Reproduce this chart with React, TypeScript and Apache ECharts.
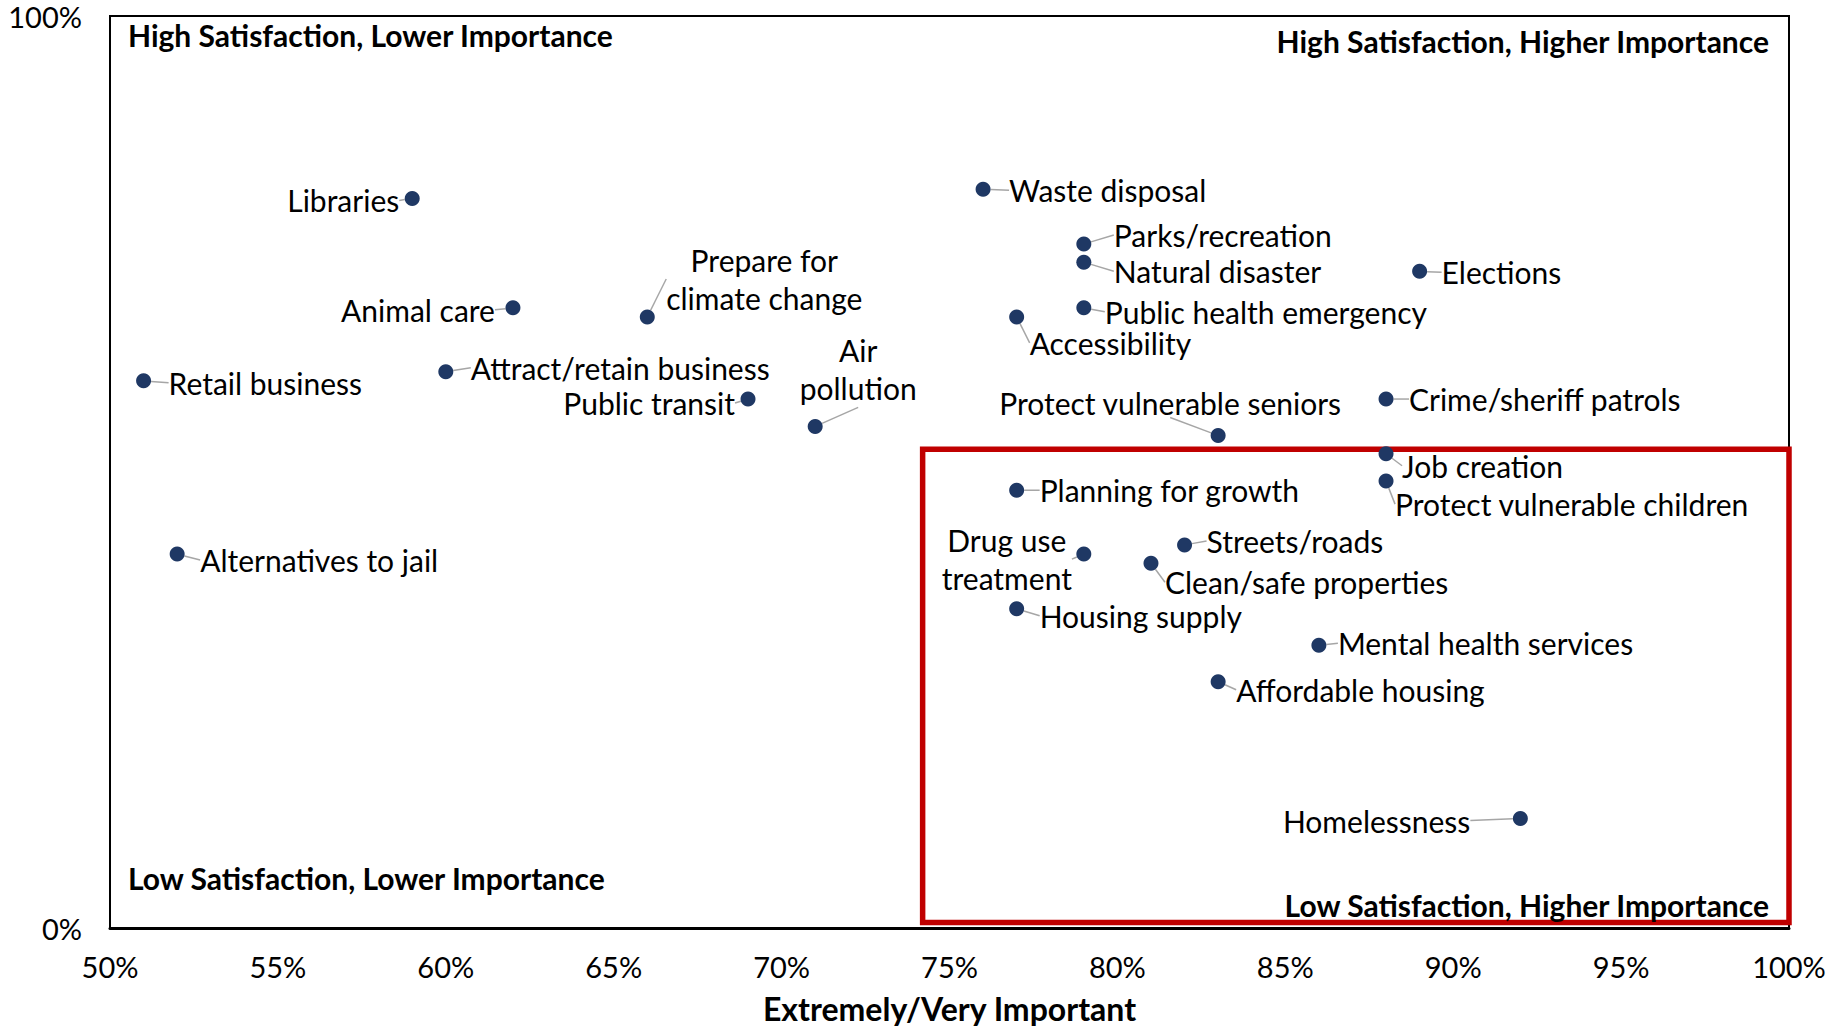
import React, { useEffect, useRef } from "react";
import * as echarts from "echarts";

// ---- Data ----
const ITEMS: string[] = [
  "Libraries", "Waste disposal", "Parks/recreation", "Natural disaster", "Elections",
  "Public health emergency", "Accessibility", "Animal care", "Prepare for\nclimate change",
  "Retail business", "Attract/retain business", "Public transit", "Air\npollution",
  "Protect vulnerable seniors", "Crime/sheriff patrols", "Job creation",
  "Protect vulnerable children", "Planning for growth", "Alternatives to jail",
  "Drug use\ntreatment", "Streets/roads", "Clean/safe properties", "Housing supply",
  "Mental health services", "Affordable housing", "Homelessness",
];
// Extremely/Very Important (%)
const IMPORTANT: number[] = [
  59, 76, 79, 79, 89,
  79, 77, 62, 66,
  51, 60, 69, 71,
  83, 88, 88,
  88, 77, 52,
  79, 82, 81, 77,
  86, 83, 92,
];
// Extremely/Very Satisfied (%)
const SATISFIED: number[] = [
  80, 81, 75, 73, 72,
  68, 67, 68, 67,
  60, 61, 58, 55,
  54, 58, 52,
  49, 48, 41,
  41, 42, 40, 35,
  31, 27, 12,
];
const X_TICKS = { min: 50, max: 100, interval: 5 };
const Y_TICKS = { min: 0, max: 100, interval: 100 };
// Highlighted region (Importance from..to, Satisfaction from..to)
const HIGHLIGHT_X: number[] = [74.2, 100];
const HIGHLIGHT_Y: number[] = [52.5, 0.6];

// ---- Label layout (pixel offsets from the point, not data) ----
type LL = [number, number, "left" | "right" | "center"];
const LABEL_LAYOUT: LL[] = [
  [-13, 2, "right"], [26, 1, "left"], [30, -9, "left"], [30, 9, "left"], [22, 1, "left"],
  [21, 4, "left"], [13, 26, "left"], [-18, 2, "right"], [117, -38, "center"],
  [25, 2, "left"], [25, -4, "left"], [-13, 4, "right"], [43, -57, "center"],
  [-48, -33, "center"], [23, 0, "left"], [16, 12, "left"],
  [9, 23, "left"], [23, 0, "left"], [23, 6, "left"],
  [-77, 5, "center"], [22, -4, "left"], [14, 19, "left"], [23, 7, "left"],
  [19, -2, "left"], [18, 8, "left"], [-50, 2, "right"],
];

const FONT = "Lato, 'Open Sans', sans-serif";

export default function App() {
  const ref = useRef<HTMLDivElement>(null);
  useEffect(() => {
    if (!ref.current) return;
    const chart = echarts.init(ref.current, null, { renderer: "svg" });
    const data = ITEMS.map((name, i) => ({
      name,
      value: [IMPORTANT[i], SATISFIED[i]],
      label: { lineHeight: name.indexOf("\n") >= 0 ? 38 : 29 },
    }));
    const quad = (text: string, x: number, y: number, align: string) => ({
      type: "text",
      x,
      y,
      z: 10,
      style: {
        text,
        fill: "#000",
        fontFamily: FONT,
        fontSize: 30,
        fontWeight: "bold",
        align,
        verticalAlign: "middle",
      },
    });
    chart.setOption({
      animation: false,
      backgroundColor: "#fff",
      grid: {
        left: 110, right: 50, top: 16, bottom: 100,
        outerBoundsMode: "none",
        containLabel: false,
        show: true, borderColor: "#000", borderWidth: 2,
      },
      xAxis: {
        type: "value",
        min: X_TICKS.min,
        max: X_TICKS.max,
        interval: X_TICKS.interval,
        axisLine: { show: true, lineStyle: { color: "#000", width: 3 } },
        axisTick: { show: false },
        splitLine: { show: false },
        axisLabel: { formatter: "{value}%", color: "#000", fontSize: 29, fontFamily: FONT, margin: 24 },
        name: "Extremely/Very Important",
        nameLocation: "middle",
        nameGap: 63,
        nameTextStyle: { color: "#000", fontSize: 32, fontWeight: "bold", fontFamily: FONT, lineHeight: 34 },
      },
      yAxis: {
        type: "value",
        min: Y_TICKS.min,
        max: Y_TICKS.max,
        interval: Y_TICKS.interval,
        axisLine: { show: true, lineStyle: { color: "#000", width: 2 } },
        axisTick: { show: false },
        splitLine: { show: false },
        axisLabel: { formatter: "{value}%", color: "#000", fontSize: 29, fontFamily: FONT, margin: 28 },
        name: "Extremely/Very Satisfied",
        nameLocation: "middle",
        nameGap: 108,
        nameTextStyle: { color: "#000", fontSize: 32, fontWeight: "bold", fontFamily: FONT },
      },
      series: [
        {
          type: "scatter",
          clip: false,
          symbol: "circle",
          symbolSize: 15,
          itemStyle: { color: "#1f3864", opacity: 1 },
          data,
          label: {
            show: true,
            position: "inside",
            formatter: (p: any) => p.name,
            color: "#000",
            fontSize: 30,
            fontFamily: FONT,
          },
          labelLine: { show: true, lineStyle: { color: "#a6a6a6", width: 1.5 } },
          labelLayout: (params: any) => {
            const [dx, dy, align] = LABEL_LAYOUT[params.dataIndex];
            const r = params.rect;
            return {
              x: r.x + r.width / 2 + dx,
              y: r.y + r.height / 2 + dy,
              align,
              verticalAlign: "middle",
            };
          },
          markArea: {
            silent: true,
            itemStyle: { color: "rgba(0,0,0,0)", borderColor: "#c00000", borderWidth: 5.5 },
            data: [[
              { coord: [HIGHLIGHT_X[0], HIGHLIGHT_Y[0]] },
              { coord: [HIGHLIGHT_X[1], HIGHLIGHT_Y[1]] },
            ]],
          },
        },
      ],
      graphic: [
        quad("High Satisfaction, Lower Importance", 128, 35, "left"),
        quad("High Satisfaction, Higher Importance", 1769, 41, "right"),
        quad("Low Satisfaction, Lower Importance", 128, 878, "left"),
        quad("Low Satisfaction, Higher Importance", 1769, 905, "right"),
      ],
    });
    return () => chart.dispose();
  }, []);
  return (
    <div
      ref={ref}
      style={{ position: "fixed", left: 0, top: 0, width: 1839, height: 1028, background: "#fff" }}
    />
  );
}
